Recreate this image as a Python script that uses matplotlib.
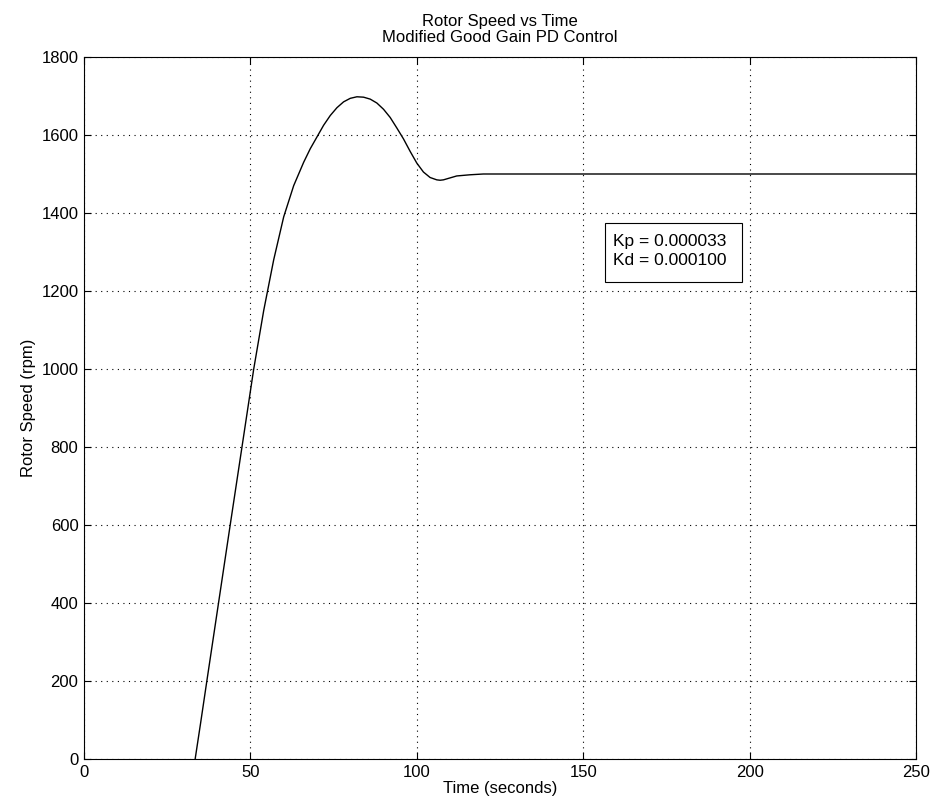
import numpy as np
import matplotlib
matplotlib.use("Agg")
import matplotlib.pyplot as plt
from matplotlib.patches import Rectangle

plt.rcParams['font.family'] = ['Liberation Sans', 'DejaVu Sans']

# rotor speed response
time_s = [33.4, 35, 37, 40, 44, 48, 51, 54, 57, 60, 63, 66, 68, 70, 72, 74, 76, 78,
          80, 82, 84, 86, 88, 90, 92, 94, 96, 98, 100, 102, 104, 106, 107, 108, 110,
          112, 116, 120, 250]
speed_rpm = [0, 90, 205, 376, 604, 830, 1000, 1150, 1280, 1390, 1470, 1530, 1565, 1595,
             1625, 1650, 1670, 1685, 1694, 1698, 1697, 1692, 1682, 1666, 1645, 1618,
             1590, 1558, 1528, 1505, 1491, 1485, 1484, 1485, 1490, 1495, 1498, 1500, 1500]

x_ticks = [0, 50, 100, 150, 200, 250]
y_ticks = [0, 200, 400, 600, 800, 1000, 1200, 1400, 1600, 1800]
kp_text = "Kp = 0.000033"
kd_text = "Kd = 0.000100"

fig = plt.figure(figsize=(9.33, 8.08), dpi=100)
ax = fig.add_axes([84/933, 1 - 759/808, 832/933, 702/808])

ax.plot(time_s, speed_rpm, color='black', linewidth=1.0)

ax.set_xlim(0, 250)
ax.set_ylim(0, 1800)
ax.set_xticks(x_ticks)
ax.set_yticks(y_ticks)
ax.tick_params(direction='in', length=5, top=True, right=True, labelsize=12, pad=4)
ax.grid(True, color='black', linestyle=(0, (1, 4)), linewidth=0.8)
for s in ax.spines.values():
    s.set_linewidth(0.8)

ax.set_xlabel("Time (seconds)", fontsize=12, labelpad=1)
ax.set_ylabel("Rotor Speed (rpm)", fontsize=12, labelpad=4)
ax.set_title("Rotor Speed vs Time\nModified Good Gain PD Control", fontsize=12,
             pad=11, linespacing=1.1)

# annotation box with the controller gains
ax.add_patch(Rectangle((0.6262, 0.6795), 0.1647, 0.084, transform=ax.transAxes,
                       facecolor='white', edgecolor='black', linewidth=0.8, zorder=3))
ax.text(0.6358, 0.7365, kp_text, transform=ax.transAxes, fontsize=12.5,
        va='center', ha='left', zorder=4)
ax.text(0.6358, 0.7108, kd_text, transform=ax.transAxes, fontsize=12.5,
        va='center', ha='left', zorder=4)

fig.savefig("out.png", dpi=100)
